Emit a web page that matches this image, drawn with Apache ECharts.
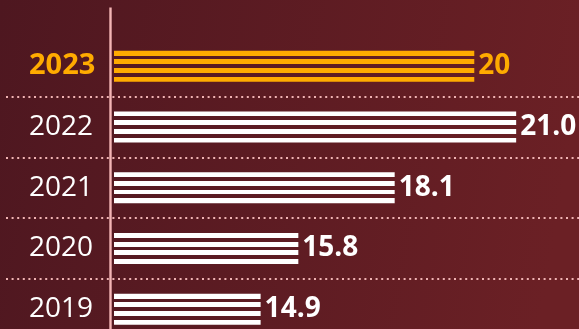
<!DOCTYPE html>
<html>
<head>
<meta charset="utf-8">
<style>
  html, body { margin: 0; padding: 0; }
  #chart { width: 579px; height: 329px; }
</style>
<script src="https://cdn.jsdelivr.net/npm/echarts@6/dist/echarts.min.js"></script>
</head>
<body>
<div id="chart"></div>
<script>
// Yearly figures, newest first
const years = ['2023', '2022', '2021', '2020', '2019'];
const values = [20, 21.0, 18.1, 15.8, 14.9];
const valueLabels = ['20', '21.0', '18.1', '15.8', '14.9'];
const highlightYear = '2023';

const ORANGE = '#ffab00';
const WHITE = '#ffffff';
const FONT = '"Open Sans", "Liberation Sans", sans-serif';

// Four horizontal stripes inside one bar, built as a hard-stop vertical gradient
function stripes(color, rgb) {
  const barH = 31, stripe = 4.9, gap = (barH - 4 * stripe) / 3;
  const clear = 'rgba(' + rgb + ',0)';
  const stops = [];
  for (let i = 0; i < 4; i++) {
    const a = (i * (stripe + gap)) / barH;
    const b = (i * (stripe + gap) + stripe) / barH;
    stops.push({ offset: a, color: color }, { offset: b, color: color });
    if (i < 3) {
      const c = ((i + 1) * (stripe + gap)) / barH;
      stops.push({ offset: b, color: clear }, { offset: c, color: clear });
    }
  }
  return { type: 'linear', x: 0, y: 0, x2: 0, y2: 1, colorStops: stops };
}

const chart = echarts.init(document.getElementById('chart'), null, { renderer: 'canvas' });

// rows are 60.75px tall; the last one runs past the bottom edge
const gridTop = 35.8, gridHeight = 303.75;

chart.setOption({
  animation: false,
  backgroundColor: {
    type: 'linear', x: 0, y: 0, x2: 1, y2: 0.3,
    colorStops: [
      { offset: 0, color: '#4e1720' },
      { offset: 1, color: '#6b2025' }
    ]
  },
  grid: [
    // full-width grid carrying the dotted row separators
    { left: 6, right: 0, top: gridTop, height: gridHeight, outerBoundsMode: 'none' },
    // grid holding the bars
    { left: 114, right: 0, top: gridTop, height: gridHeight, outerBoundsMode: 'none' }
  ],
  xAxis: [
    { gridIndex: 0, type: 'value', min: 0, max: 1, show: false },
    { gridIndex: 1, type: 'value', min: 11.4, max: 22.5, show: false }
  ],
  yAxis: [
    {
      gridIndex: 0, type: 'category', data: years, inverse: true,
      axisLine: { show: false }, axisTick: { show: false }, axisLabel: { show: false },
      splitLine: {
        show: true, showMinLine: false, showMaxLine: false,
        lineStyle: { color: '#f0b3b3', width: 2, type: [2, 3.6] }
      }
    },
    {
      gridIndex: 1, type: 'category', data: years, inverse: true,
      axisLine: { show: false }, axisTick: { show: false }, splitLine: { show: false },
      axisLabel: {
        align: 'left', margin: 85,
        formatter: function (v) { return v === highlightYear ? '{hl|' + v + '}' : '{n|' + v + '}'; },
        rich: {
          hl: { color: ORANGE, fontFamily: FONT, fontWeight: 'bold', fontSize: 29 },
          n: { color: WHITE, fontFamily: FONT, fontWeight: 'normal', fontSize: 28 }
        }
      }
    }
  ],
  graphic: [
    {
      type: 'line', z: 10,
      shape: { x1: 110.5, y1: 7.5, x2: 110.5, y2: 329 },
      style: { stroke: '#f4b5b5', lineWidth: 2.4 }
    }
  ],
  series: [
    {
      type: 'bar', xAxisIndex: 1, yAxisIndex: 1,
      barWidth: 31,
      data: values.map(function (v, i) {
        const hl = years[i] === highlightYear;
        return {
          value: v,
          itemStyle: { color: hl ? stripes(ORANGE, '255,171,0') : stripes(WHITE, '255,255,255') },
          label: { color: hl ? ORANGE : WHITE }
        };
      }),
      label: {
        show: true, position: 'right', distance: 4,
        fontFamily: FONT, fontWeight: 'bold', fontSize: 28,
        formatter: function (p) { return valueLabels[p.dataIndex]; }
      }
    }
  ]
});
</script>
</body>
</html>
